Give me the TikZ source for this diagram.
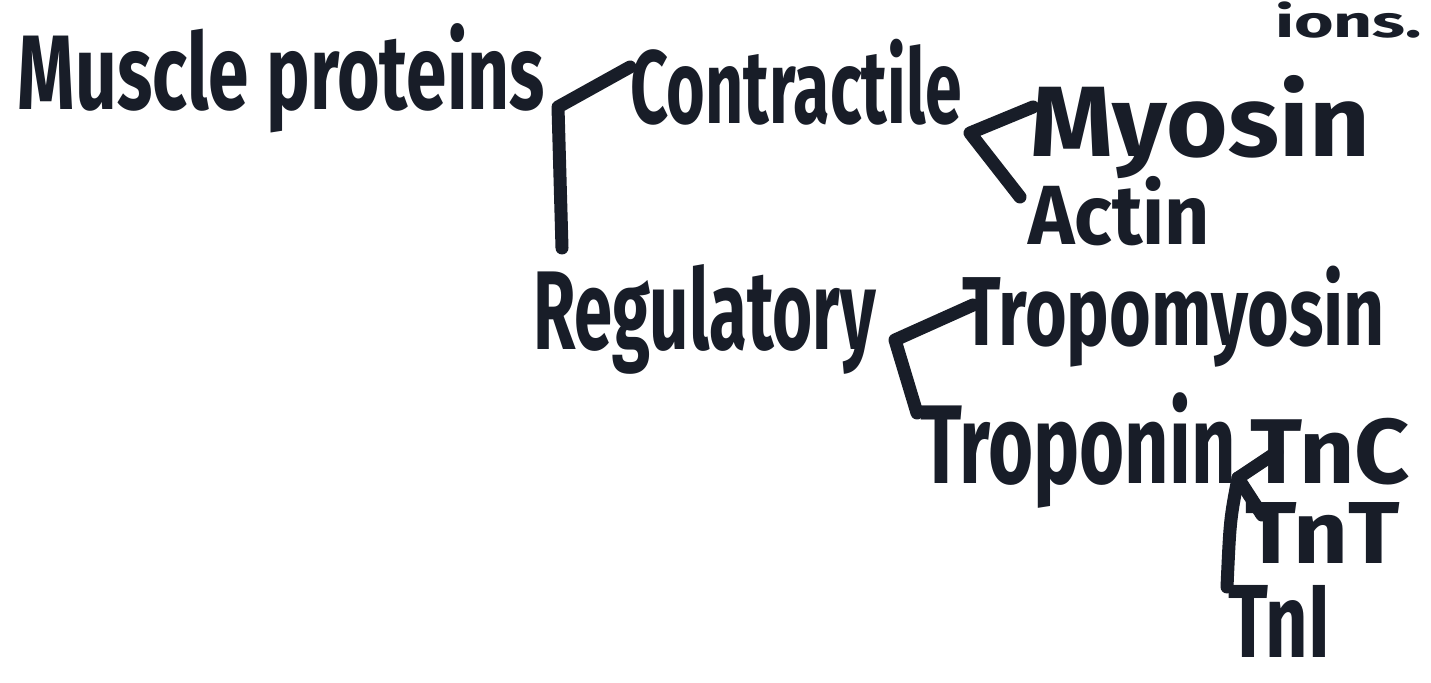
\documentclass[tikz,border=0pt]{standalone}
\usepackage{graphicx}
\usepackage{fontspec}
\setmainfont{Fira Sans}
\definecolor{ink}{RGB}{24,29,40}
% a word written in marker: #1 = width (pt), #2 = font size (pt)
\newcommand\inkword[3]{{\fontsize{#2pt}{#2pt}\selectfont\bfseries\resizebox{#1pt}{\height}{#3}}}
\begin{document}
\begin{tikzpicture}[x=0.5pt,y=-0.5pt,
  word/.style={inner sep=0pt,outer sep=0pt,text=ink,anchor=base west},
  stroke/.style={draw=ink,line width=6.5pt,line cap=round,line join=round}]
\fill[white] (0,0) rectangle (1431,683);
\useasboundingbox (0,0) rectangle (1431,683);

% words, placed by their baselines
\node[word] (io) at (1275,38)  {\inkword{73.5}{22}{ions.}};
\node[word] (mp) at (18,110)   {\inkword{263.5}{53}{Muscle proteins}};
\node[word] (ct) at (630,124)  {\inkword{166}{52}{Contractile}};
\node[word] (my) at (1030,157) {\inkword{170}{50}{Myosin}};
\node[word] (ac) at (1028,245) {\inkword{91}{42}{Actin}};
\node[word] (rg) at (533,350)  {\inkword{171.5}{56}{Regulatory}};
\node[word] (tm) at (962,346)  {\inkword{211.5}{49}{Tropomyosin}};
\node[word] (tp) at (920,484)  {\inkword{158}{56}{Troponin}};
\node[word] (tc) at (1250,484) {\inkword{80}{46}{TnC}};
\node[word] (tt) at (1245,564) {\inkword{77.5}{44}{TnT}};
\node[word] (ti) at (1228,658) {\inkword{51}{52}{TnI}};

% forks
\coordinate (mpfork) at (558,107);
\coordinate (mpup)   at (630,67);
\coordinate (mpdown) at (562,248);
\coordinate (ctfork) at (970,133);
\coordinate (ctup)   at (1033,107);
\coordinate (ctdown) at (1020,197);
\coordinate (rgfork) at (895,340);
\coordinate (rgup)   at (973,305);
\coordinate (rgdown) at (917,413);
\coordinate (tpfork) at (1238,478);
\coordinate (tpup)   at (1277,452);
\coordinate (tpmid)  at (1262,515);
\coordinate (tpdown) at (1227,587);

\draw[stroke] (mpup) -- (mpfork) -- (mpdown);
\draw[stroke] (ctup) -- (ctfork) -- (ctdown);
\draw[stroke] (rgup) -- (rgfork) -- (rgdown);
\draw[stroke] (tpup) -- (tpfork) -- (tpmid);
\draw[stroke] (tpfork) .. controls (1230,520) .. (tpdown);
\end{tikzpicture}
\end{document}
